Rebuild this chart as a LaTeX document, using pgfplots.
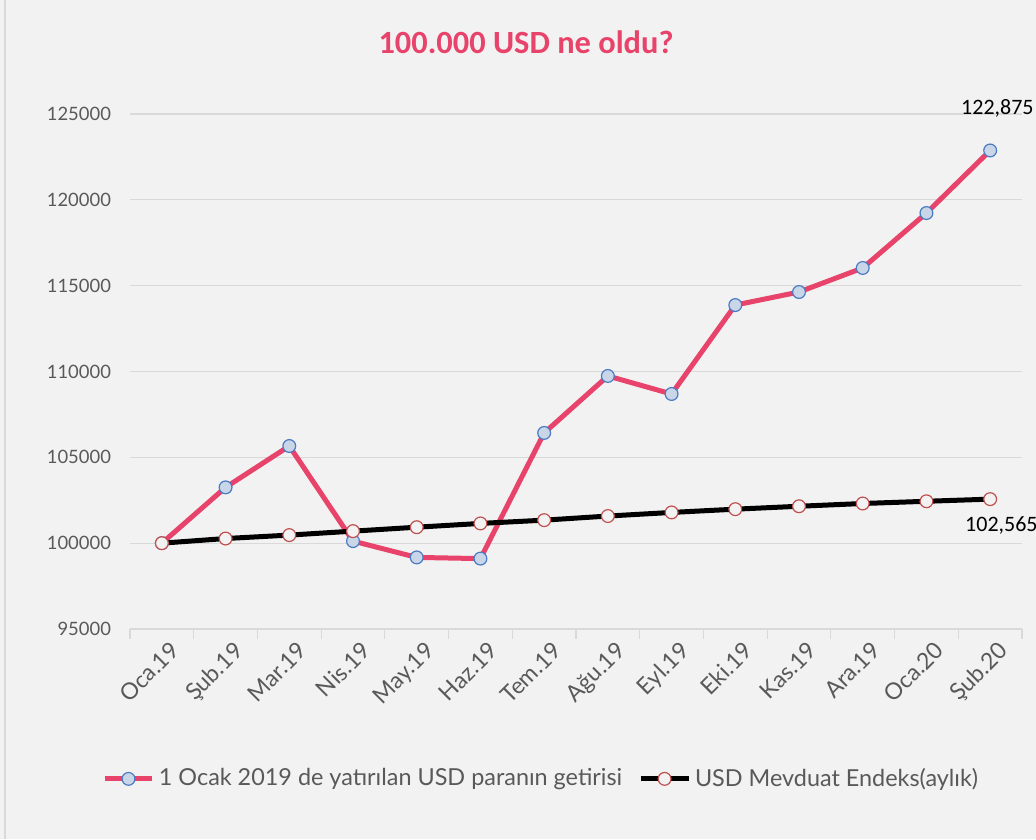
\documentclass[border=0pt]{standalone}
\usepackage{pgfplots}
\pgfplotsset{compat=1.18}
\usepackage{fontspec}
\setmainfont{Lato}
\newfontfamily\calfont{Carlito}

\definecolor{bgc}{HTML}{F2F2F2}
\definecolor{redl}{HTML}{E8436A}
\definecolor{bluem}{HTML}{4A7BC4}
\definecolor{bluef}{HTML}{C9D6E8}
\definecolor{redm}{HTML}{C0504D}
\definecolor{gridc}{HTML}{D9D9D9}
\definecolor{txt}{HTML}{595959}

\begin{document}
\begin{tikzpicture}[x=0.5pt,y=0.5pt]
\fill[bgc] (0,0) rectangle (1036,839);
\useasboundingbox (0,0) rectangle (1036,839);
\draw[gridc, line width=1pt] (5,0) -- (5,839);
\node[font=\calfont\bfseries\fontsize{16.2}{18}\selectfont, text=redl] at (526,797) {100.000 USD ne oldu?};
\begin{axis}[
  at={(65pt,105pt)}, anchor=south west,
  scale only axis, width=446pt, height=257.5pt,
  xmin=-0.5, xmax=13.5, ymin=95000, ymax=125000,
  xtick={0,...,13},
  xticklabels={Oca.19,Şub.19,Mar.19,Nis.19,May.19,Haz.19,Tem.19,Ağu.19,Eyl.19,Eki.19,Kas.19,Ara.19,Oca.20,Şub.20},
  minor xtick={-0.5,0.5,...,13.5},
  major tick length=0pt, minor tick length=5pt,
  tick align=outside,
  ytick={95000,100000,...,125000},
  scaled y ticks=false,
  yticklabel={\pgfmathprintnumber[fixed,precision=0,1000 sep={}]{\tick}},
  ymajorgrids, grid style={gridc, line width=0.6pt},
  axis x line*=bottom, axis y line*=left,
  x axis line style={gridc, line width=0.8pt, -},
  y axis line style={draw=none},
  minor x tick style={gridc, line width=0.6pt},
  ytick style={draw=none},
  /pgf/number format/assume math mode=true,
  tick label style={font=\fontsize{11.5}{13}\selectfont, text=txt},
  yticklabel style={xshift=-6pt, font=\fontsize{9.2}{11}\selectfont},
  xticklabel style={rotate=45, anchor=north east, xshift=2pt, yshift=-3pt},
  legend style={at={(0.462,-0.291)}, anchor=center, draw=none, fill=none,
    font=\fontsize{11.7}{13}\selectfont, text=txt, legend columns=2,
    /tikz/every even column/.append style={column sep=6pt}},
  legend image code/.code={\draw[mark repeat=2,mark phase=2,#1] plot coordinates {(0cm,0cm) (0.42cm,0cm) (0.84cm,0cm)};},
  legend cell align=left,
  clip=false,
]
\addplot[redl, line width=2.5pt, mark=*, mark size=3.2pt,
  mark options={draw=bluem, fill=bluef, line width=0.6pt}] coordinates {
 (0,100000) (1,103250) (2,105660) (3,100120) (4,99170) (5,99100) (6,106420)
 (7,109740) (8,108690) (9,113870) (10,114630) (11,116030) (12,119230) (13,122875)};
\addlegendentry{1 Ocak 2019 de yatırılan USD paranın getirisi}
\addplot[black, line width=2.5pt, mark=*, mark size=3.2pt,
  mark options={draw=redm, fill=bgc, line width=0.6pt}] coordinates {
 (0,100000) (1,100270) (2,100470) (3,100700) (4,100930) (5,101150) (6,101340)
 (7,101580) (8,101790) (9,101980) (10,102150) (11,102310) (12,102440) (13,102565)};
\addlegendentry{USD Mevduat Endeks(aylık)}
\node[font=\calfont\fontsize{11}{12}\selectfont, anchor=base west] at ([xshift=-18pt,yshift=18pt]axis cs:13,122875) {122,875};
\node[font=\calfont\fontsize{11}{12}\selectfont, anchor=base west] at ([xshift=-16pt,yshift=-16pt]axis cs:13,102565) {102,565};
\end{axis}
\end{tikzpicture}
\end{document}
